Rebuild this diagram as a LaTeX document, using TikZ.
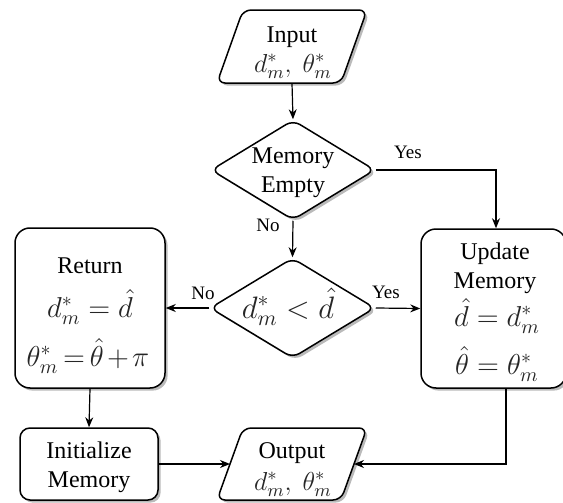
\RequirePackage{fix-cm}
\documentclass[tikz,border=0pt]{standalone}
\usepackage{fontspec}
\setmainfont{Liberation Serif}
\usetikzlibrary{shapes.geometric,arrows.meta,shadows,calc}
\begin{document}
\begin{tikzpicture}[x=0.5pt,y=-0.5pt,
  shad/.style={drop shadow={shadow xshift=1.3pt,shadow yshift=-1.3pt,fill=black!45,opacity=0.6}},
  base/.style={draw=black,line width=0.75pt,fill=white,shad,align=center,inner sep=0pt},
  iopath/.style={draw=black,line width=0.75pt,fill=white,shad,rounded corners=4pt},
  anch/.style={draw=none,inner sep=0pt,rectangle},
  dec/.style={base,diamond,rounded corners=4pt,minimum width=82pt,minimum height=50pt},
  proc/.style={base,rectangle,rounded corners=7.5pt},
  conn/.style={line width=0.6pt,-{Stealth[length=5pt,width=4pt]}},
  txt/.style={anchor=base,inner sep=0pt,font=\fontsize{12}{14}\selectfont},
  mth/.style={anchor=base,inner sep=0pt,text=black!85,text height=10pt,text depth=1.5pt,
    font=\fontsize{14.4}{17}\selectfont},
  mios/.style={anchor=base,inner sep=0pt,text=black!85,font=\fontsize{13}{15}\selectfont},
  lab/.style={font=\fontsize{9.5}{11}\selectfont,inner sep=0pt}
]
\useasboundingbox (0,0) rectangle (563,503);

% parallelograms
\filldraw[iopath] (243,10) -- (367,10) -- (341,83) -- (217,83) -- cycle;
\node[anch,minimum width=75pt,minimum height=36.5pt] (in) at (292,46.5) {};
\filldraw[iopath] (243,428) -- (367,428) -- (341,500) -- (217,500) -- cycle;
\node[anch,minimum width=75pt,minimum height=36pt] (out) at (292,464) {};
\coordinate (outW) at (230,464);
\coordinate (outE) at (354,464);

% other shapes
\node[dec] (me) at (293,170) {};
\node[dec,minimum width=82.5pt] (cmp) at (292.5,308) {};
\node[proc,minimum width=75pt,minimum height=80pt] (ret) at (90,308) {};
\node[proc,minimum width=72.5pt,minimum height=79.5pt] (upd) at (493.5,308.5) {};
\node[proc,rounded corners=5pt,minimum width=69pt,minimum height=36pt] (ini) at (89,464) {};

% texts
\node[txt] (t1) at (292,42) {Input};
\node[mios] (t2) at (293,72) {$d^*_m,\ \theta^*_m$};
\node[txt] (t3) at (293,163) {Memory};
\node[txt] (t4) at (293,192) {Empty};
\node[mth,font=\fontsize{15.5}{17}\selectfont] (t5) at (288,318) {$d^*_m<\hat d$};
\node[txt] (t6) at (90,273) {Return};
\node[mth] (t7) at (90,317) {$d^*_m=\hat d$};
\node[mth] (t8) at (88,366) {{\thickmuskip=3mu \medmuskip=2mu $\theta^*_m=\hat\theta+\pi$}};
\node[txt] (t9) at (495,259) {Update};
\node[txt] (t10) at (495,288) {Memory};
\node[mth] (t11) at (497,326) {$\hat d=d^*_m$};
\node[mth] (t12) at (497,374) {$\hat\theta=\theta^*_m$};
\node[txt] (t13) at (89,458) {Initialize};
\node[txt] (t14) at (89,487) {Memory};
\node[txt] (t15) at (292,458) {Output};
\node[mios] (t16) at (293,490) {$d^*_m,\ \theta^*_m$};

\coordinate (updtop) at ($(upd.north)+(1.25pt,0)$);
\coordinate (updbot) at ($(upd.south)+(6.25pt,0)$);

\draw[conn] (in.south) -- (me.north);
\draw[conn] (me.east) -| (updtop);
\draw[conn] (me.south) -- (cmp.north);
\draw[conn] (cmp.west) -- (ret.east);
\draw[conn] (cmp.east) -- (upd.west);
\draw[conn] (ret.south) -- (ini.north);
\draw[conn] (ini.east) -- (outW);
\draw[conn] (updbot) |- (outE);

\node[lab] (l1) at (408,152) {Yes};
\node[lab] (l2) at (268,225) {No};
\node[lab] (l3) at (203,293) {No};
\node[lab] (l4) at (386,292) {Yes};
\end{tikzpicture}
\end{document}
